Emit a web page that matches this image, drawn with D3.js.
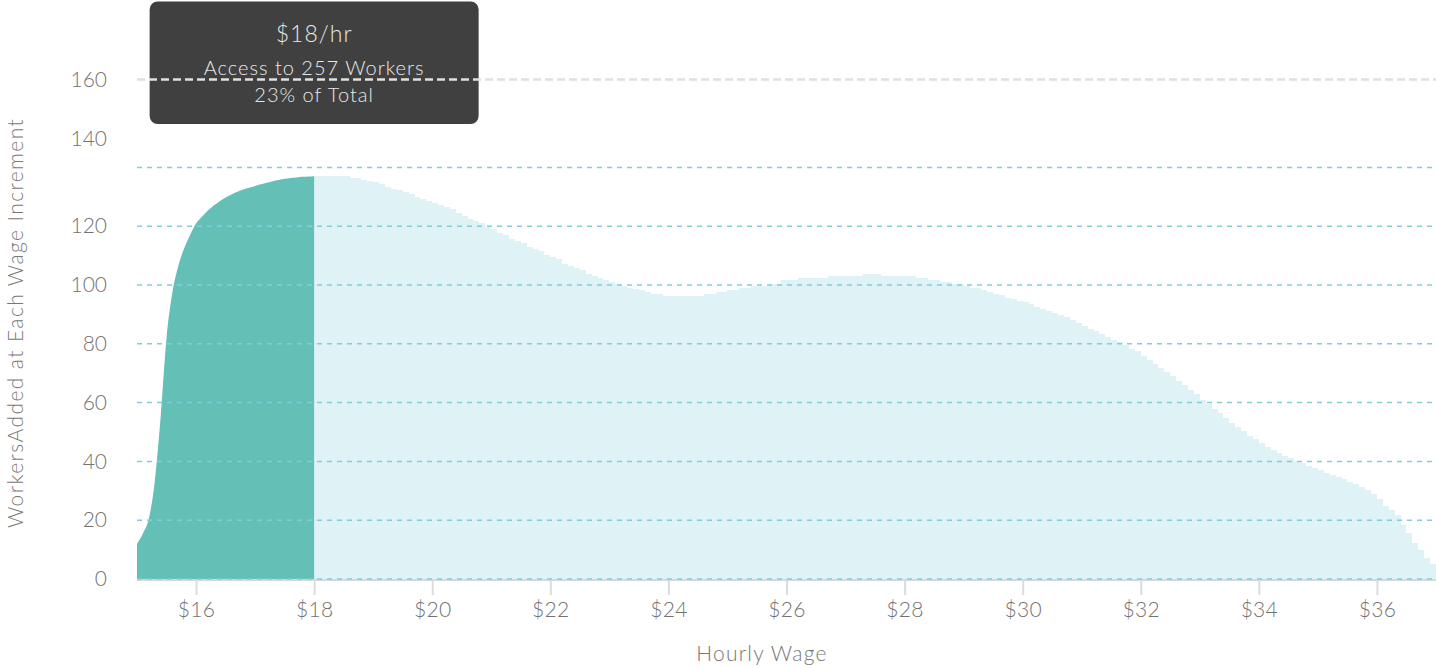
<!DOCTYPE html>
<html>
<head>
<meta charset="utf-8">
<script src="https://cdn.jsdelivr.net/npm/d3@7"></script>
<style>
	body { margin: 0; background: #fff; }
	svg { display: block; font-family: "Lato", "Open Sans", sans-serif; font-weight: 300; }
</style>
</head>
<body>
<div id="chart"></div>
<script>

// wage categories (x) and workers added (y)
var lowStart = 15, highStart = 18, wageStep = 0.1;

// $15.00 - $18.00 (below the selected wage)
var lowWorkers = [
	12, 15.5, 20.5, 33, 55, 82, 97.5, 106.5, 112.5, 117,
	120.9, 123.2, 125.3, 127, 128.5, 129.8, 130.8, 131.7, 132.5, 133.1,
	133.7, 134.3, 134.8, 135.3, 135.7, 136.1, 136.4, 136.6, 136.8, 136.9,
	137
];

// $18.00 - $37.00 (above the selected wage)
var highWorkers = [
	137, 137, 137, 137, 137, 137, 136.3, 136.3, 135.6, 135.4,
	134.9, 134.2, 133.5, 132.8, 132.2, 131.5, 130.8, 130.1, 129.4, 128.7,
	128.0, 127.3, 126.7, 126.0, 124.6, 123.6, 122.5, 121.8, 121.1, 119.7,
	119.0, 117.7, 117.0, 115.6, 114.9, 114.2, 112.8, 112.1, 111.5, 110.1,
	109.4, 108.7, 107.3, 106.6, 105.9, 105.2, 103.8, 103.1, 102.4, 101.7,
	101.0, 100.3, 99.6, 98.9, 98.6, 98.2, 97.5, 96.8, 96.8, 96.2,
	96.2, 96.2, 96.2, 96.2, 96.2, 96.2, 96.8, 96.8, 97.5, 97.5,
	98.2, 98.2, 98.9, 98.9, 99.6, 99.6, 99.6, 100.2, 100.2, 101.6,
	101.6, 101.6, 102.3, 102.3, 102.3, 102.3, 102.3, 103.0, 103.0, 103.0,
	103.0, 103.0, 103.0, 103.6, 103.6, 103.6, 103.0, 103.0, 103.0, 103.0,
	103.0, 103.0, 102.3, 102.3, 101.6, 101.6, 100.9, 100.9, 100.2, 100.2,
	99.6, 98.9, 98.9, 98.2, 97.5, 96.8, 96.5, 95.7, 95.2, 94.5,
	94.1, 93.4, 92.5, 91.7, 91.1, 90.4, 89.7, 89.0, 88.2, 87.2,
	86.1, 85.1, 84.4, 83.3, 82.3, 81.4, 80.5, 79.5, 78.4, 77.4,
	76.0, 74.6, 73.2, 71.9, 70.5, 69.0, 67.5, 65.9, 64.4, 62.9,
	61.0, 59.5, 57.8, 56.3, 54.8, 53.1, 51.6, 50.2, 48.8, 47.6,
	46.2, 45.0, 44.0, 43.0, 42.0, 41.1, 40.3, 39.4, 38.6, 37.9,
	37.0, 36.2, 35.4, 34.6, 33.9, 33.0, 32.2, 31.3, 30.2, 28.9,
	27.2, 24.8, 23.4, 21.6, 18.5, 15.5, 12.4, 9.8, 7.2, 5.2,
	3.6
];

var xTicks = [16, 18, 20, 22, 24, 26, 28, 30, 32, 34, 36];
var yTicks = [0, 20, 40, 60, 80, 100, 120, 140, 160];
var gridTicks = [0, 20, 40, 60, 80, 100, 120, 140];

var tipLines = ["$18/hr", "Access to 257 Workers", "23% of Total"];
var selectedWage = 18;


/*
 *	CHART PROPERTIES
 */
var width = 1436, height = 668;
var margin = { top: 108.6, right: 0, bottom: 89, left: 137 };

var svg = d3.select("#chart").append("svg")
	.attr("width", width)
	.attr("height", height);

var xScale = d3.scaleLinear()
	.domain([15, 37])
	.range([margin.left, width - margin.right]);

var yScale = d3.scaleLinear()
	.domain([0, 160])
	.range([height - margin.bottom, margin.top]);

// top labels sit higher than their grid lines
var topShift = -29;

function toPoints(start, values){
	return values.map(function(v, i){ return { wage: +(start + i * wageStep).toFixed(2), workers: v }; });
}


/*
 *	AREAS
 */
var lowArea = d3.area()
	.x(function(d){ return xScale(d.wage) })
	.y0(yScale(0))
	.y1(function(d){ return yScale(d.workers) })
	.curve(d3.curveMonotoneX);

var highArea = d3.area()
	.x(function(d){ return xScale(d.wage) })
	.y0(yScale(0))
	.y1(function(d){ return yScale(d.workers) })
	.curve(d3.curveStepAfter);

svg.append("path")
	.datum(toPoints(highStart, highWorkers))
	.attr("d", highArea)
	.attr("shape-rendering", "crispEdges")
	.style("fill", "#dff2f6");

svg.append("path")
	.datum(toPoints(lowStart, lowWorkers))
	.attr("d", lowArea)
	.style("fill", "#64bfb7");


/*
 *	GRID + AXES
 */
svg.append("line")
	.attr("x1", xScale.range()[0]).attr("x2", xScale.range()[1])
	.attr("y1", yScale(0) + 1).attr("y2", yScale(0) + 1)
	.style("stroke", "#d8d8d8")
	.style("stroke-width", 2);

svg.append("g").selectAll("line")
	.data(gridTicks).enter()
	.append("line")
		.attr("x1", xScale.range()[0]).attr("x2", xScale.range()[1])
		.attr("y1", function(d){ return yScale(d) })
		.attr("y2", function(d){ return yScale(d) })
		.style("stroke", "#7fcfdb")
		.style("stroke-width", 1.5)
		.style("stroke-dasharray", "5,5");

var xAxis = d3.axisBottom(xScale)
	.tickValues(xTicks)
	.tickSize(15)
	.tickPadding(7)
	.tickFormat(function(d){ return "$" + d });

var gx = svg.append("g")
	.attr("class", "x axis")
	.attr("transform", "translate(0," + (yScale(0) + 1) + ")")
	.call(xAxis);
gx.select(".domain").remove();
gx.selectAll("line").style("stroke", "#dcdcdc").style("stroke-width", 2);
gx.selectAll("text")
	.style("font-size", "21px")
	.style("font-family", "Lato, sans-serif")
	.style("letter-spacing", "0.3px")
	.style("fill", "#727272");

var yAxis = d3.axisLeft(yScale)
	.tickValues(yTicks)
	.tickSize(0)
	.tickPadding(0);

var gy = svg.append("g")
	.attr("class", "y axis")
	.attr("transform", "translate(107,0)")
	.call(yAxis);
gy.select(".domain").remove();
gy.selectAll("text")
	.attr("y", function(d){ return d > 130 ? topShift : 0 })
	.style("font-size", "21px")
	.style("font-family", "Lato, sans-serif")
	.style("fill", "#727272");

// axis labels
svg.append("text")
	.text("Hourly Wage")
	.attr("x", 762)
	.attr("y", 661)
	.style("text-anchor", "middle")
	.style("font-size", "21px")
	.style("letter-spacing", "1.2px")
	.style("fill", "#777");

svg.append("text")
	.text("WorkersAdded at Each Wage Increment")
	.attr("transform", "translate(23,323) rotate(-90)")
	.style("text-anchor", "middle")
	.style("font-size", "21px")
	.style("letter-spacing", "1.4px")
	.style("fill", "#777");


/*
 *	TOOLTIP
 */
var tipX = xScale(selectedWage);

svg.append("rect")
	.attr("x", tipX - 164.5)
	.attr("y", 1.5)
	.attr("width", 329)
	.attr("height", 122.5)
	.attr("rx", 8)
	.style("fill", "#404040");

svg.append("line")
	.attr("x1", xScale.range()[0]).attr("x2", xScale.range()[1])
	.attr("y1", yScale(160) + topShift).attr("y2", yScale(160) + topShift)
	.style("stroke", "#e0e0e0")
	.style("stroke-width", 2.5)
	.style("stroke-dasharray", "8,4");

svg.selectAll(".tip")
	.data(tipLines).enter()
	.append("text")
		.attr("class", "tip")
		.text(function(d){ return d })
		.attr("x", tipX)
		.attr("y", function(d, i){ return [42, 75, 102][i] })
		.style("text-anchor", "middle")
		.style("font-size", function(d, i){ return i == 0 ? "23px" : "20px" })
		.style("letter-spacing", "1px")
		.style("fill", "#e8e8e8");

</script>
</body>
</html>
